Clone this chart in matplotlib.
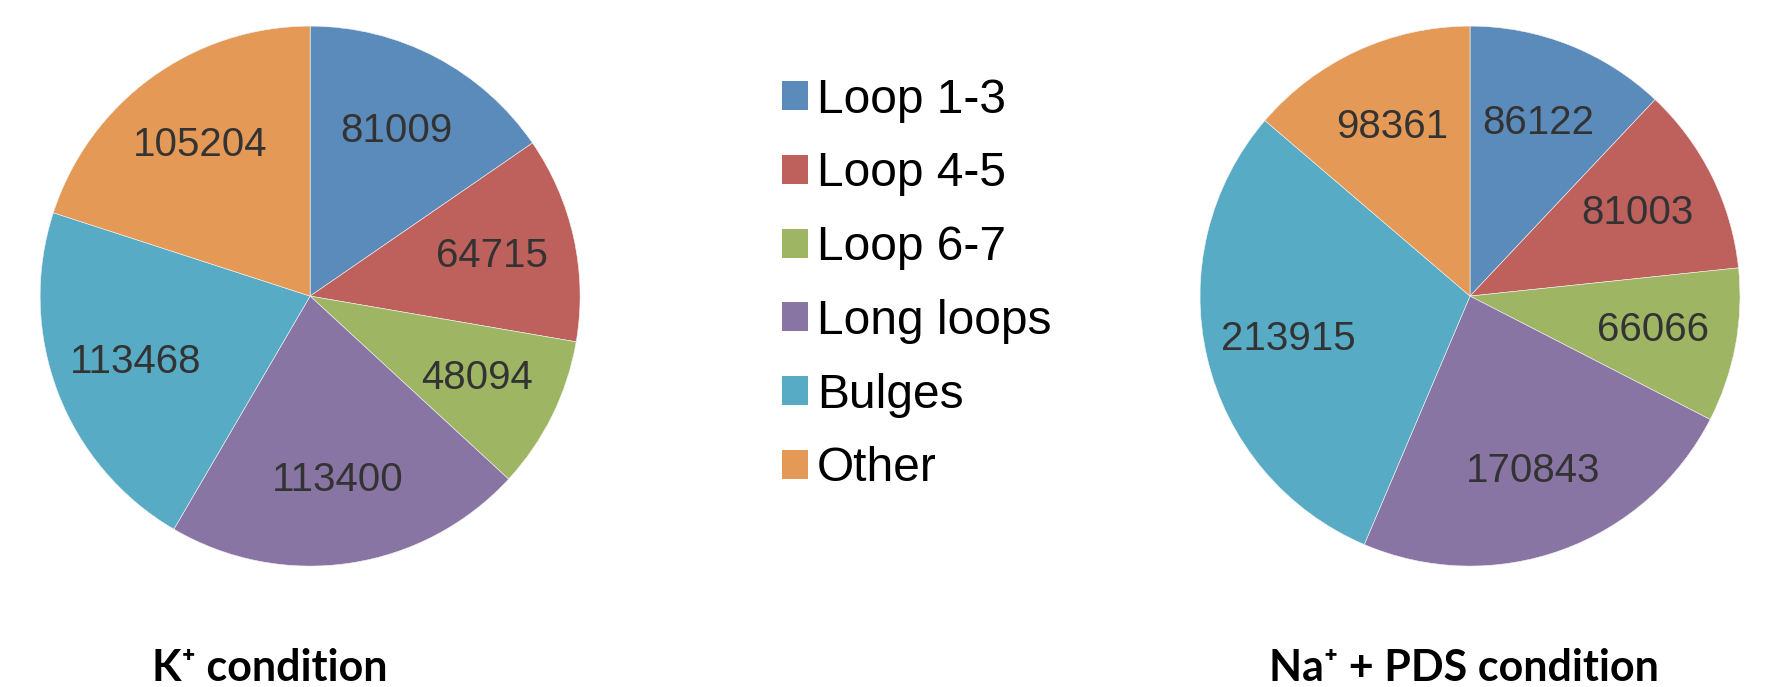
import matplotlib.pyplot as plt
from matplotlib.patches import Patch

# categorias y valores de cada condicion
categorias = ["Loop 1-3", "Loop 4-5", "Loop 6-7", "Long loops", "Bulges", "Other"]
valoresK = [81009, 64715, 48094, 113400, 113468, 105204]
valoresNaPDS = [86122, 81003, 66066, 170843, 213915, 98361]
titulos = ["K\u207a condition", "Na\u207a + PDS condition"]

colores = ["#5b8bbb", "#be605c", "#9eb564", "#8975a4", "#57abc4", "#e49a56"]

fig = plt.figure(figsize=(17.66, 6.87), dpi=100)

ax1 = fig.add_axes([0.0227, 0.176, 0.3058, 0.786])
ax2 = fig.add_axes([0.6795, 0.176, 0.3058, 0.786])

for ax, valores in [(ax1, valoresK), (ax2, valoresNaPDS)]:
    wedges, textos = ax.pie(valores, colors=colores, startangle=90, counterclock=False,
                            labels=[str(v) for v in valores], labeldistance=0.69,
                            wedgeprops=dict(edgecolor="#f4f4f4", linewidth=0.4),
                            textprops=dict(fontsize=29, color="#333333", family="Liberation Sans",
                                           ha="center", va="center"))
    ax.set_xlim(-1, 1)
    ax.set_ylim(-1, 1)
    ax.set_aspect("equal")

# titulos abajo
fig.text(0.153, 0.027, titulos[0], fontsize=31, fontweight="bold", ha="center", va="center",
         family=["Lato", "DejaVu Sans"])
fig.text(0.829, 0.027, titulos[1], fontsize=31, fontweight="bold", ha="center", va="center",
         family=["Lato", "DejaVu Sans"])

# leyenda
handles = [Patch(facecolor=c, label=l) for c, l in zip(colores, categorias)]
fig.legend(handles=handles, loc="upper left", bbox_to_anchor=(0.432, 0.915), frameon=False,
           prop=dict(family="Liberation Sans", size=34.5), handlelength=0.55, handleheight=0.55,
           handletextpad=0.18, labelspacing=0.6, borderaxespad=0)

plt.savefig("out.png", dpi=100)
